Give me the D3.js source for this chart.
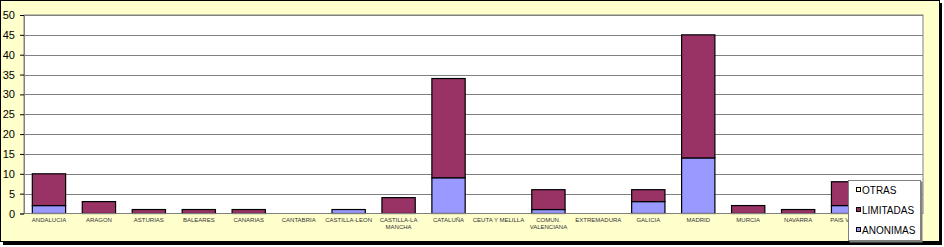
<!DOCTYPE html>
<html>
<head>
<meta charset="utf-8">
<script src="https://cdn.jsdelivr.net/npm/d3@7"></script>
<style>
  body { margin: 0; background: #ffffff; }
  svg { display: block; font-family: Arial, "Liberation Sans", sans-serif; }
</style>
</head>
<body>
<script>
// regions, in chart order (the last one is hidden behind the legend)
var regions = [
  "ANDALUCIA", "ARAGON", "ASTURIAS", "BALEARES", "CANARIAS", "CANTABRIA",
  "CASTILLA-LEON", "CASTILLA-LA MANCHA", "CATALUÑA", "CEUTA Y MELILLA",
  "COMUN. VALENCIANA", "EXTREMADURA", "GALICIA", "MADRID", "MURCIA",
  "NAVARRA", "PAIS VASCO", "RIOJA"
];

var anonimas  = [2, 0, 0, 0, 0, 0, 1, 0, 9, 0, 1, 0, 3, 14, 0, 0, 2, 0];
var limitadas = [8, 3, 1, 1, 1, 0, 0, 4, 25, 0, 5, 0, 3, 31, 2, 1, 6, 0];
var otras     = [0, 0, 0, 0, 0, 0, 0, 0, 0, 0, 0, 0, 0, 0, 0, 0, 0, 0];

var seriesNames = ["ANONIMAS", "LIMITADAS", "OTRAS"];
var yTicks = [0, 5, 10, 15, 20, 25, 30, 35, 40, 45, 50];

// label line breaks like the original
var labelLines = {
  "CASTILLA-LA MANCHA": ["CASTILLA-LA", "MANCHA"],
  "COMUN. VALENCIANA": ["COMUN.", "VALENCIANA"]
};

var colors = {
  "ANONIMAS": "#9999ff",
  "LIMITADAS": "#993366",
  "OTRAS": "#ffffcc"
};

var w = 944, h = 247;
var plot = { left: 24, top: 15, right: 923, bottom: 213.5 };

var svg = d3.select("body").append("svg")
  .attr("width", w)
  .attr("height", h);

// chart frame with shadow
svg.append("rect")
  .attr("x", 3).attr("y", 3)
  .attr("width", 939).attr("height", 242)
  .attr("fill", "#000");
svg.append("rect")
  .attr("x", 0.5).attr("y", 0.5)
  .attr("width", 939).attr("height", 241)
  .attr("fill", "#ffffcc")
  .attr("stroke", "#000");

var x = d3.scaleBand()
  .domain(regions)
  .range([plot.left, plot.right])
  .paddingInner(1/3)
  .paddingOuter(1/6);

var y = d3.scaleLinear()
  .domain([0, 50])
  .range([plot.bottom, plot.top]);

// plot area
svg.append("rect")
  .attr("x", plot.left).attr("y", plot.top)
  .attr("width", plot.right - plot.left)
  .attr("height", plot.bottom - plot.top)
  .attr("fill", "#fff")
  .attr("stroke", "#808080");

// gridlines
svg.append("g").selectAll("line")
  .data(yTicks.slice(1))
  .enter()
  .append("line")
  .attr("x1", plot.left).attr("x2", plot.right)
  .attr("y1", function(d) { return Math.round(y(d)) + 0.5; })
  .attr("y2", function(d) { return Math.round(y(d)) + 0.5; })
  .attr("stroke", "#808080")
  .attr("stroke-width", 1);

// stacked data
var rows = regions.map(function(r, i) {
  return { region: r, ANONIMAS: anonimas[i], LIMITADAS: limitadas[i], OTRAS: otras[i] };
});
var stack = d3.stack().keys(seriesNames)(rows);

svg.append("g").selectAll("g")
  .data(stack)
  .enter()
  .append("g")
  .attr("fill", function(d) { return colors[d.key]; })
  .selectAll("rect")
  .data(function(d) { return d.filter(function(s) { return s[1] - s[0] > 0; }); })
  .enter()
  .append("rect")
  .attr("x", function(d) { return x(d.data.region); })
  .attr("y", function(d) { return y(d[1]); })
  .attr("width", x.bandwidth())
  .attr("height", function(d) { return y(d[0]) - y(d[1]); })
  .attr("stroke", "#000")
  .attr("stroke-width", 1.2);

// y axis
var yAxis = d3.axisLeft(y)
  .tickValues(yTicks)
  .tickSize(4)
  .tickPadding(5);
var ya = svg.append("g")
  .attr("transform", "translate(" + plot.left + ",0)")
  .call(yAxis);
ya.select(".domain").attr("stroke", "#808080");
ya.selectAll(".tick line").attr("stroke", "#000");
ya.selectAll(".tick text")
  .attr("fill", "#000")
  .style("font-size", "11px")
  .style("font-family", "Arial, 'Liberation Sans', sans-serif");

// x axis line
svg.append("line")
  .attr("x1", plot.left).attr("x2", plot.right)
  .attr("y1", plot.bottom).attr("y2", plot.bottom)
  .attr("stroke", "#808080");

// x labels
var xl = svg.append("g").selectAll("text")
  .data(regions)
  .enter()
  .append("text")
  .attr("x", function(d) { return x(d) + x.bandwidth() / 2; })
  .attr("y", 222)
  .attr("text-anchor", "middle")
  .attr("fill", "#333")
  .style("font-size", "6px");
xl.selectAll("tspan")
  .data(function(d) { return labelLines[d] || [d]; })
  .enter()
  .append("tspan")
  .attr("x", function() { return d3.select(this.parentNode).attr("x"); })
  .attr("dy", function(d, i) { return i === 0 ? 0 : 7; })
  .text(function(d) { return d; });

// legend
var lg = svg.append("g").attr("transform", "translate(848,180)");
lg.append("rect")
  .attr("x", 1.5).attr("y", 1.5)
  .attr("width", 73).attr("height", 61)
  .attr("fill", "#808080");
lg.append("rect")
  .attr("x", 0.5).attr("y", 0.5)
  .attr("width", 72).attr("height", 60)
  .attr("fill", "#fff")
  .attr("stroke", "#808080");

var legendOrder = ["OTRAS", "LIMITADAS", "ANONIMAS"];
var li = lg.selectAll("g.item")
  .data(legendOrder)
  .enter()
  .append("g")
  .attr("class", "item")
  .attr("transform", function(d, i) { return "translate(8," + (10 + i * 20) + ")"; });
li.append("rect")
  .attr("x", 0.5).attr("y", -2.5)
  .attr("width", 4).attr("height", 4)
  .attr("fill", function(d) { return colors[d]; })
  .attr("stroke", "#000");
li.append("text")
  .attr("x", 6)
  .attr("y", 3.5)
  .attr("fill", "#000")
  .style("font-size", "10px")
  .text(function(d) { return d; });
</script>
</body>
</html>
